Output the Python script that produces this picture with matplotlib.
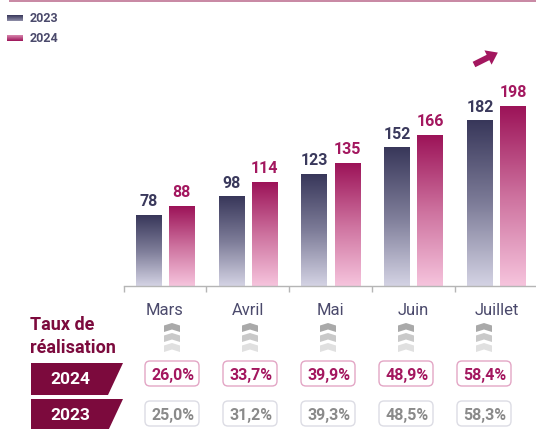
import matplotlib

matplotlib.use("Agg")
import matplotlib.pyplot as plt
import numpy as np
from matplotlib.colors import LinearSegmentedColormap
from matplotlib.patches import FancyArrow, FancyBboxPatch, Polygon, Rectangle

months = ["Mars", "Avril", "Mai", "Juin", "Juillet"]
values_2023 = [78, 98, 123, 152, 182]
values_2024 = [88, 114, 135, 166, 198]
rate_2023 = ["25,0%", "31,2%", "39,3%", "48,5%", "58,3%"]
rate_2024 = ["26,0%", "33,7%", "39,9%", "48,9%", "58,4%"]

NAVY = "#3a395c"
CRIMSON = "#a3175f"
MAROON = "#7c0a3d"
MONTH_COLOR = "#4b4a6c"
cmap_2023 = LinearSegmentedColormap.from_list("c23", ["#d4d3e4", "#7d7c98", "#38375a"])
cmap_2024 = LinearSegmentedColormap.from_list("c24", ["#f6c4dd", "#cd719e", "#9c1358"])

plt.rcParams["font.family"] = ["Roboto", "DejaVu Sans"]

fig = plt.figure(figsize=(5.36, 4.29), dpi=100)
W, H = 536, 429

# overlay in pixel coordinates for table / decorations
ov = fig.add_axes([0, 0, 1, 1])
ov.axis("off")
ov.patch.set_alpha(0)

ax = fig.add_axes([123.6 / W, (H - 286) / H, 414.5 / W, 218 / H])
x = np.arange(len(months))
bw = 0.31
grad = np.linspace(1, 0, 256).reshape(-1, 1)


def gradient_bars(ax, xs, vals, cmap):
    bars = ax.bar(xs, vals, width=bw, facecolor="none", edgecolor="none")
    for b in bars:
        x0, w, h = b.get_x(), b.get_width(), b.get_height()
        ax.imshow(grad, extent=[x0, x0 + w, 0, h], origin="upper", aspect="auto",
                  cmap=cmap, vmin=0, vmax=1, zorder=2)
    return bars


bars23 = gradient_bars(ax, x - 0.2, values_2023, cmap_2023)
bars24 = gradient_bars(ax, x + 0.2, values_2024, cmap_2024)

for bars, color in ((bars23, NAVY), (bars24, CRIMSON)):
    for b in bars:
        ax.annotate(f"{b.get_height():.0f}", (b.get_x() + b.get_width() / 2, b.get_height()),
                    xytext=(0, 6.5), textcoords="offset points", ha="center", va="baseline",
                    fontsize=11.5, fontweight="bold", color=color)

ax.set_xlim(-0.5, len(months) - 0.5)
ax.set_ylim(0, 240)
for s in ("top", "right", "left"):
    ax.spines[s].set_visible(False)
ax.spines["bottom"].set_color("#b5b5b5")
ax.spines["bottom"].set_linewidth(1)
ax.set_yticks([])
ax.set_xticks(np.arange(len(months) + 1) - 0.5)
ax.set_xticklabels([])
ax.tick_params(axis="x", direction="out", length=4, width=1, color="#b5b5b5")

ov.set_xlim(0, W)
ov.set_ylim(H, 0)

# category centres in pixels (month labels) and table columns (slightly tighter grid)
cx = [ax.transData.transform((i, 0))[0] for i in x]
col = [172 + 78 * i for i in x]

# top rule
ov.add_patch(Rectangle((9, 0), W - 9, 2.2, color="#c98aa5", lw=0))

# legend
for ly, cmap, lab in ((15, cmap_2023, "2023"), (35, cmap_2024, "2024")):
    g = grad if lab == "2023" else grad[::-1]
    ov.imshow(g, extent=[7, 23, ly + 6, ly], origin="upper", aspect="auto", cmap=cmap, vmin=-0.6, vmax=1)
    ov.text(30, ly + 3, lab, fontsize=9, fontweight="bold", color=MONTH_COLOR, va="center")

# trend arrow
ov.add_patch(FancyArrow(474, 64.5, 14, -7, width=6, head_width=16, head_length=11,
                        length_includes_head=False, color="#a3175f", lw=0))

# month labels and chevrons
chev_colors = ["#a9a9a9", "#c9c9c9", "#e0e0e0"]
for i, m in enumerate(months):
    ov.text(cx[i], 315, m, ha="center", va="baseline", fontsize=12, color=MONTH_COLOR)
    for k, c in enumerate(chev_colors):
        y0 = 323 + 10 * k
        xc = col[i]
        pts = [(xc - 8, y0 + 2.5), (xc, y0), (xc + 8, y0 + 2.5),
               (xc + 8, y0 + 9), (xc, y0 + 6.5), (xc - 8, y0 + 9)]
        ov.add_patch(Polygon(pts, closed=True, color=c, lw=0))

# table title
ov.text(30, 330, "Taux de", fontsize=13, fontweight="bold", color=MAROON, va="baseline")
ov.text(30, 353, "réalisation", fontsize=13, fontweight="bold", color=MAROON, va="baseline")

# rows
rows = [
    ("2024", rate_2024, 363, 361, CRIMSON, "#e3a6c5"),
    ("2023", rate_2023, 399, 401, "#8a8a8a", "#dcdce4"),
]
for year, rates, ty, by, tcol, ecol in rows:
    ov.add_patch(Polygon([(31, ty), (123, ty), (108, ty + 32), (31, ty + 32)], closed=True,
                         color=MAROON, lw=0))
    ov.text(70, ty + 16, year, ha="center", va="center", fontsize=12.5, fontweight="bold", color="white")
    for i, r in enumerate(rates):
        ov.add_patch(FancyBboxPatch((col[i] - 24, by + 3), 48, 19, boxstyle="round,pad=3,rounding_size=5",
                                    facecolor="white", edgecolor=ecol, lw=1))
        ov.text(col[i] + 1, by + 14.5, r, ha="center", va="center", fontsize=11.5, fontweight="bold", color=tcol)

ov.set_xlim(0, W)
ov.set_ylim(H, 0)

fig.savefig("out.png", dpi=100)
